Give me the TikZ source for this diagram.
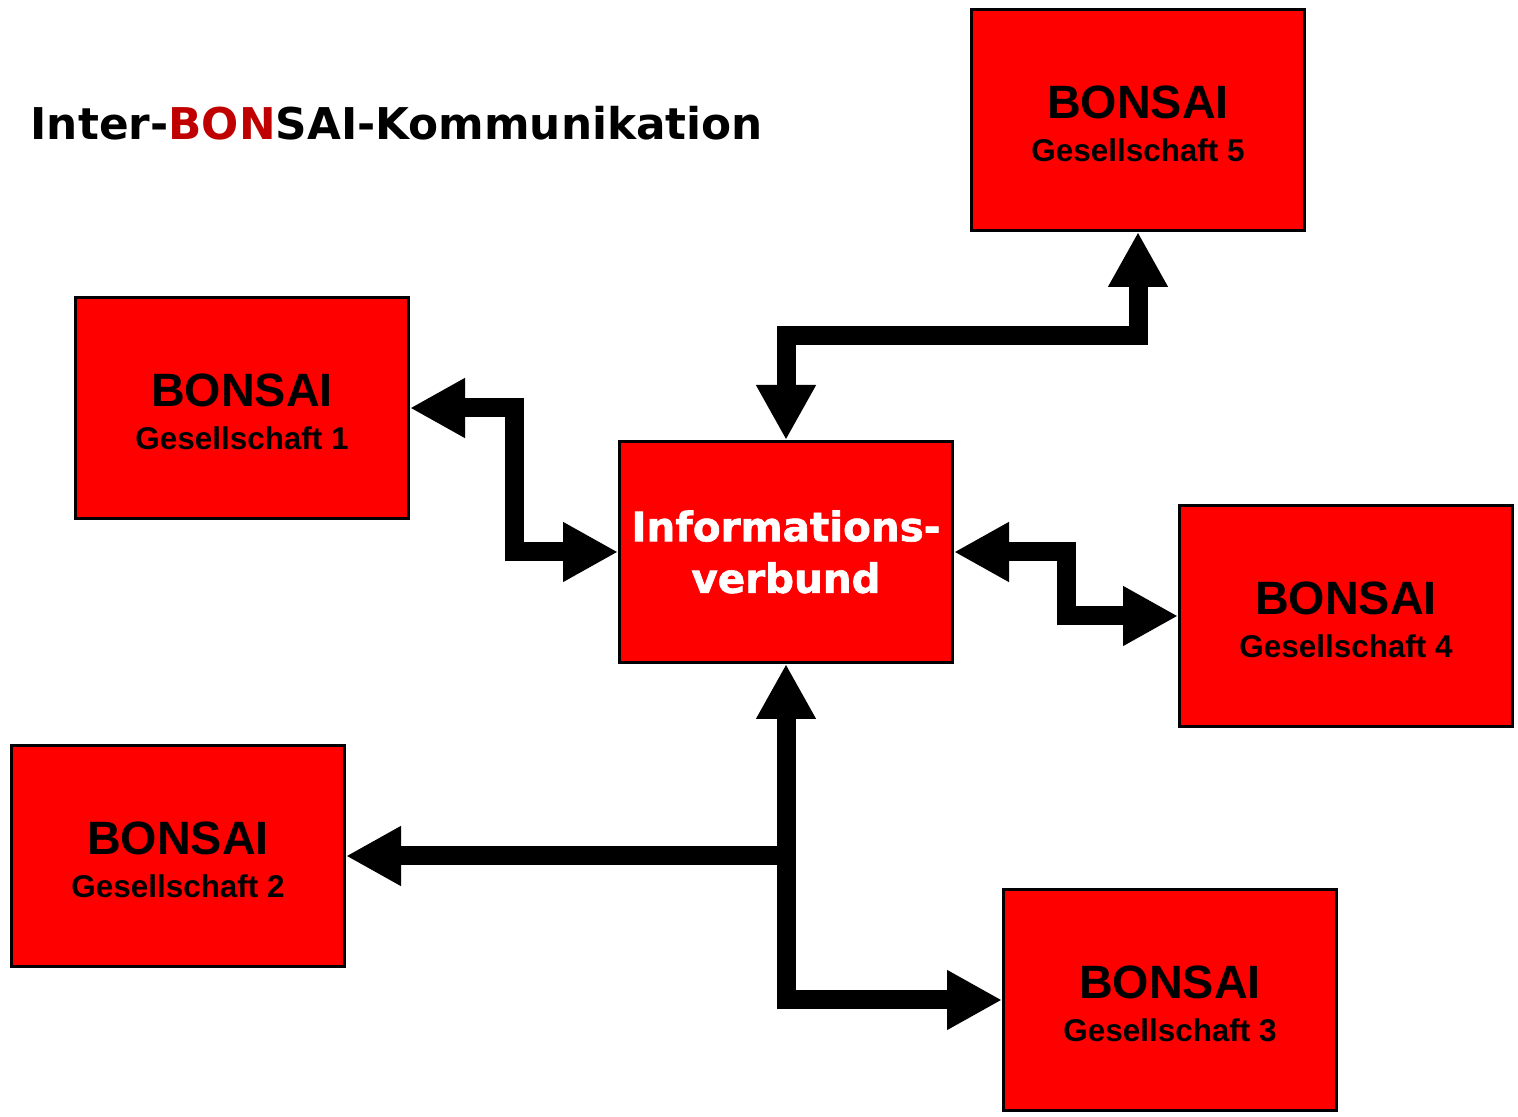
\documentclass[tikz,border=0pt]{standalone}
\usepackage{fontspec}
\usepackage{tikz}
\usetikzlibrary{arrows.meta}
\newfontfamily\boxfont{Liberation Sans}
\newfontfamily\titlefont{DejaVu Sans}
\newfontfamily\infofont[BoldFeatures={FakeBold=1.5}]{DejaVu Sans}
\definecolor{R}{RGB}{255, 0, 0}
\definecolor{DR}{RGB}{192, 0, 0}

\begin{document}
\begin{tikzpicture}[
    bonsai/.style={draw=black, line width=0.03cm, fill=R, minimum width=3.33cm,
      minimum height=2.21cm, inner sep=0pt, align=center, font=\boxfont\bfseries},
    firma/.style={bonsai, text height=23.9pt},
    link/.style={line width=0.19cm, line join=miter,
      {Triangle[length=0.55cm, width=0.56cm]}-{Triangle[length=0.55cm, width=0.56cm]}},
    onelink/.style={line width=0.19cm, line join=miter,
      -{Triangle[length=0.55cm, width=0.56cm]}}
  ]
   \useasboundingbox (0,0) rectangle (15.18,11.17);
	% Titel
   \node[anchor=base west, inner sep=0pt, font=\titlefont\bfseries\fontsize{12.45}{15}\selectfont]
      (titel) at (0.30,9.77) {Inter-\textcolor{DR}{BON}SAI-Kommunikation};

	% Gesellschaften
   \node[firma] (g5) at (11.38,9.97)
      {\fontsize{13.3}{16}\selectfont BONSAI\\[0.01cm]\fontsize{8.95}{11}\selectfont Gesellschaft 5};
   \node[firma] (g1) at (2.42,7.09)
      {\fontsize{13.3}{16}\selectfont BONSAI\\[0.01cm]\fontsize{8.95}{11}\selectfont Gesellschaft 1};
   \node[firma] (g4) at (13.46,5.01)
      {\fontsize{13.3}{16}\selectfont BONSAI\\[0.01cm]\fontsize{8.95}{11}\selectfont Gesellschaft 4};
   \node[firma] (g2) at (1.78,2.61)
      {\fontsize{13.3}{16}\selectfont BONSAI\\[0.01cm]\fontsize{8.95}{11}\selectfont Gesellschaft 2};
   \node[firma] (g3) at (11.70,1.17)
      {\fontsize{13.3}{16}\selectfont BONSAI\\[0.01cm]\fontsize{8.95}{11}\selectfont Gesellschaft 3};

	% Informationsverbund in der Mitte
   \node[bonsai, text=white, font=\infofont\bfseries\fontsize{11.5}{14.7}\selectfont]
      (info) at (7.86,5.65) {Informations-\\verbund};

	% Verbindungen
   \draw[link] (g1.east) -- ++(1.04,0) |- (info.west);
   \draw[link] (info.north) -- ++(0,1.04) -| (g5.south);
   \draw[link] (info.east) -- ++(1.12,0) |- (g4.west);
   \draw[link] (info.south) |- (g3.west);
   \coordinate (abzweig) at (info.south |- g2.east);
   \draw[onelink] ([xshift=0.095cm]abzweig) -- (g2.east);
\end{tikzpicture}
\end{document}
